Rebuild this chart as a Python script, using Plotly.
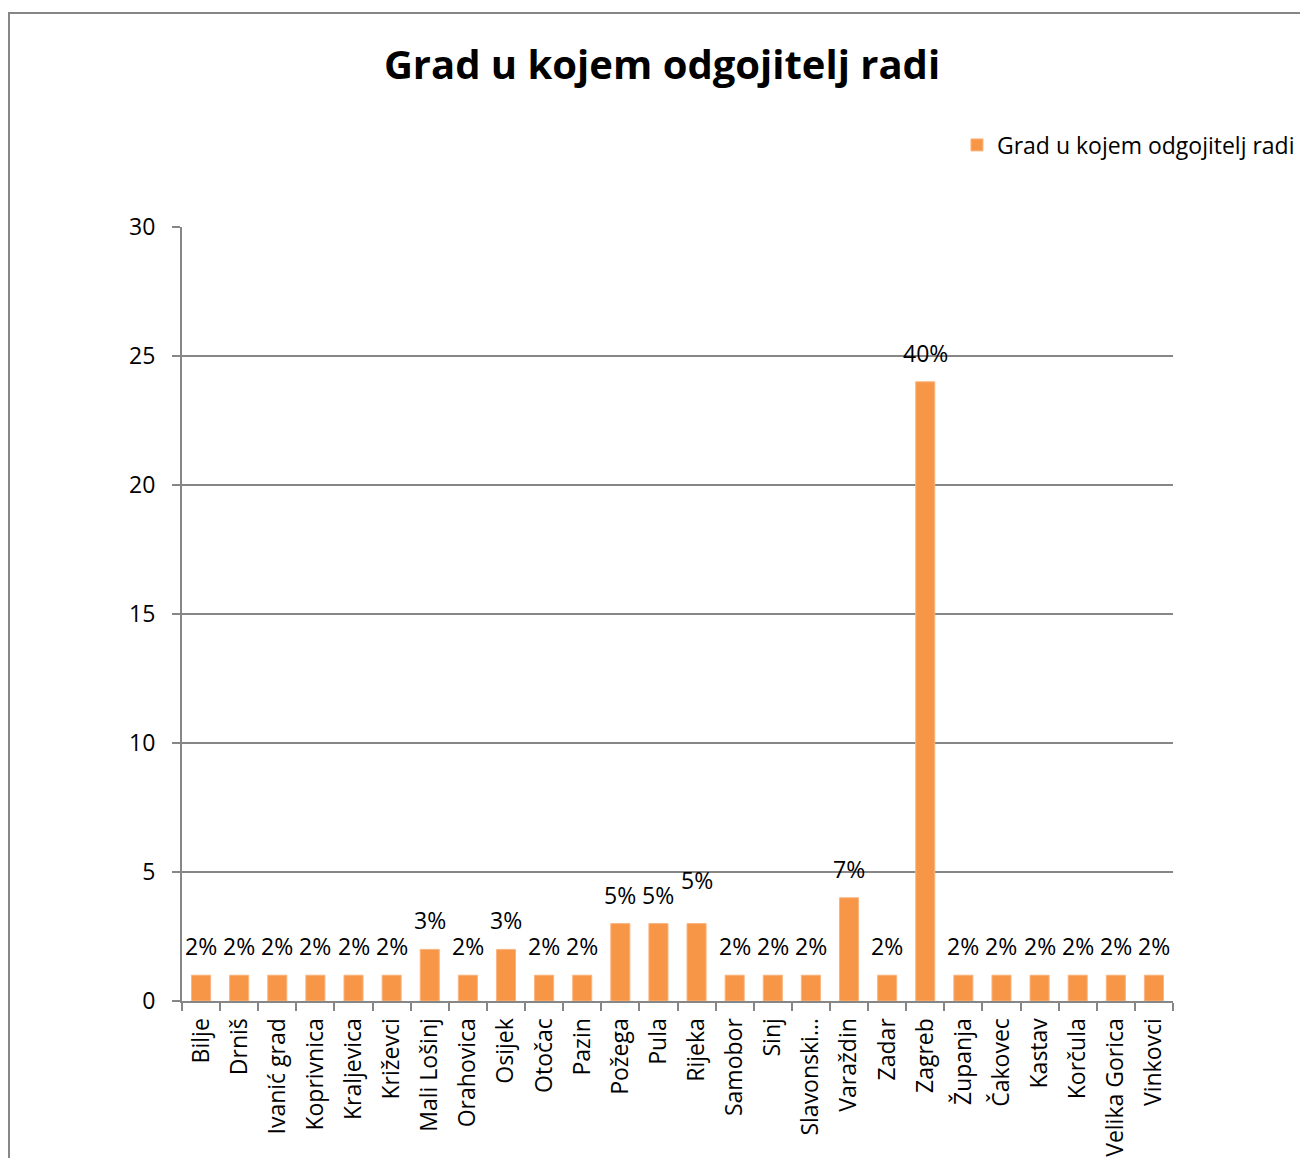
"""
Bar chart: grad u kojem odgojitelj radi
"""

import plotly.graph_objects as go

# data
cities = ["Bilje", "Drniš", "Ivanić grad", "Koprivnica", "Kraljevica", "Križevci",
          "Mali Lošinj", "Orahovica", "Osijek", "Otočac", "Pazin", "Požega", "Pula",
          "Rijeka", "Samobor", "Sinj", "Slavonski…", "Varaždin", "Zadar", "Zagreb",
          "Županja", "Čakovec", "Kastav", "Korčula", "Velika Gorica", "Vinkovci"]
counts = [1, 1, 1, 1, 1, 1, 2, 1, 2, 1, 1, 3, 3, 3, 1, 1, 1, 4, 1, 24, 1, 1, 1, 1, 1, 1]
y_ticks = [0, 5, 10, 15, 20, 25, 30]

series_name = "Grad u kojem odgojitelj radi"
BAR_COLOR = "#F79646"
GRID = "#868686"
FONT = "Open Sans, Arial, sans-serif"
TXT = 23

total = sum(counts)
pct_labels = [f"{round(c / total * 100)}%" for c in counts]

fig = go.Figure()

fig.add_trace(go.Bar(
    x=cities,
    y=counts,
    name=series_name,
    marker=dict(color=BAR_COLOR, line=dict(color="#FBB47F", width=1)),
    showlegend=True,
))

# percentage labels above bars (Excel put Rijeka's one a bit higher)
for city, c, lab in zip(cities, counts, pct_labels):
    shift = 11 + (15 if city == "Rijeka" else 0)
    fig.add_annotation(
        x=city, y=c, text=lab, showarrow=False,
        yanchor="bottom", yshift=shift,
        font=dict(size=TXT, color="black", family=FONT),
    )

# outer chart frame
fig.add_shape(
    type="rect", xref="paper", yref="paper",
    x0=-0.1746, x1=1.3, y0=-0.4, y1=1.2765,
    line=dict(color="#868686", width=2), fillcolor="rgba(0,0,0,0)",
    layer="below",
)

fig.update_layout(
    width=1308,
    height=1158,
    margin=dict(l=174, r=143, t=219, b=165, autoexpand=False),
    title=dict(
        text="<b>Grad u kojem odgojitelj radi</b>",
        x=0.5, xanchor="center",
        y=1 - 57 / 1158, yanchor="middle",
        font=dict(size=40, color="black", family=FONT),
    ),
    legend=dict(
        x=0.782, y=1.106, xanchor="left", yanchor="middle",
        font=dict(size=TXT, color="black", family=FONT),
        itemwidth=30,
        bgcolor="rgba(0,0,0,0)",
    ),
    bargap=0.5,
    plot_bgcolor="white",
    paper_bgcolor="white",
    font=dict(family=FONT, size=TXT, color="black"),
    xaxis=dict(
        type="category",
        tickangle=-90,
        tickson="boundaries",
        ticks="outside",
        ticklen=8,
        tickwidth=2,
        tickcolor=GRID,
        ticklabelstandoff=6,
        showline=True,
        linecolor=GRID,
        linewidth=2,
        showgrid=False,
        automargin=False,
        tickfont=dict(size=TXT, color="black", family=FONT),
    ),
    yaxis=dict(
        range=[0, 30],
        tickvals=y_ticks,
        ticks="outside",
        ticklen=8,
        tickwidth=2,
        tickcolor=GRID,
        ticklabelstandoff=12,
        showline=True,
        linecolor=GRID,
        linewidth=2,
        showgrid=True,
        gridcolor=GRID,
        gridwidth=2,
        zeroline=False,
        automargin=False,
        tickfont=dict(size=TXT, color="black", family=FONT),
    ),
)

fig.write_html("out.html")
